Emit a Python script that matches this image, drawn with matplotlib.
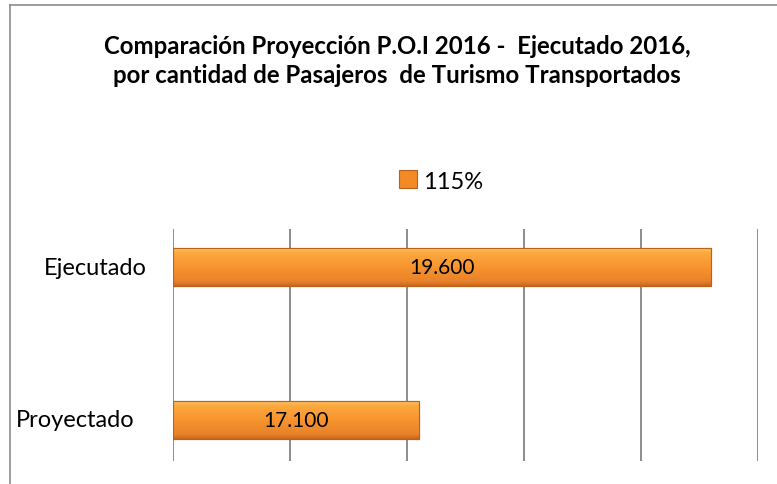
import matplotlib
matplotlib.use("Agg")
import matplotlib.pyplot as plt
import numpy as np
from matplotlib.patches import Patch
from matplotlib.colors import LinearSegmentedColormap
from matplotlib.lines import Line2D
import matplotlib.transforms as mtransforms

categories = ["Proyectado", "Ejecutado"]
values = [17100, 19600]
value_labels = ["17.100", "19.600"]
series_name = "115%"
title = "Comparación Proyección P.O.I 2016 -  Ejecutado 2016,\npor cantidad de Pasajeros  de Turismo Transportados"
x_min, x_max, x_step = 15000, 20000, 1000

FONT = ["Lato", "DejaVu Sans"]
plt.rcParams["font.family"] = FONT

W, H = 777, 485
fig = plt.figure(figsize=(W / 100, H / 100), dpi=100)
fig.patch.set_facecolor("white")

left, right = 173 / W, 758 / W
bottom, top = 23 / H, 255 / H
ax = fig.add_axes([left, bottom, right - left, top - bottom])

ypos = np.arange(len(categories))
bar_h = 0.25
bars = ax.barh(ypos, [v - x_min for v in values], left=x_min, height=bar_h,
               color="#F7922F", edgecolor="#B9621C", linewidth=0.8, zorder=3)

# gradient shading inside each bar (bevel look)
cmap = LinearSegmentedColormap.from_list(
    "bev", [(0.0, "#C8661C"), (0.12, "#E8822A"), (0.5, "#F9952F"), (0.85, "#FBA83F"), (1.0, "#FDC860")])
grad = np.linspace(0, 1, 256).reshape(-1, 1)
for b in bars:
    x0, y0 = b.get_x(), b.get_y()
    w, h = b.get_width(), b.get_height()
    im = ax.imshow(grad, cmap=cmap, aspect="auto", origin="lower",
                   extent=[x0, x0 + w, y0, y0 + h], zorder=3.5)
    im.set_clip_path(b)
    ax.add_patch(plt.Rectangle((x0, y0), w, h, fill=False, edgecolor="#B9621C",
                               linewidth=0.8, zorder=4))

for yi, v, lab in zip(ypos, values, value_labels):
    ax.text((x_min + v) / 2, yi, lab, ha="center", va="center",
            fontsize=15, color="black", zorder=5)

ax.set_xlim(x_min, x_max)
ax.set_ylim(-0.27, 1.25)
ax.set_xticks(np.arange(x_min, x_max + 1, x_step))
ax.set_xticklabels([])
ax.tick_params(axis="x", length=0)
ax.set_yticks([])
ax.grid(axis="x", color="#8C8C8C", linewidth=1.4, zorder=0)
for s in ax.spines.values():
    s.set_visible(False)
ax.set_facecolor("none")

# category labels
trans = mtransforms.blended_transform_factory(ax.transAxes, ax.transData)
label_right = {"Ejecutado": (147 - 173) / 585, "Proyectado": (135 - 173) / 585}
for yi, cat in zip(ypos, categories):
    ax.text(label_right[cat], yi, cat, transform=trans, ha="right", va="center",
            fontsize=17, color="black")

# title
fig.text(397 / W, 1 - 61 / H, title, ha="center", va="center", fontsize=17.3,
         fontweight="bold", linespacing=1.3, color="black")

# legend
handle = Patch(facecolor="#F38A26", edgecolor="#B9621C", linewidth=0.8)
leg = fig.legend([handle], [series_name], loc="center", bbox_to_anchor=(441 / W, 1 - 182 / H),
                 frameon=False, fontsize=17, handlelength=0.8, handleheight=0.8,
                 handletextpad=0.25)

# outer border (top and left)
fig.add_artist(Line2D([10 / W, 1], [1 - 6 / H, 1 - 6 / H], transform=fig.transFigure,
                      color="#8C8C8C", linewidth=1.2))
fig.add_artist(Line2D([10 / W, 10 / W], [0, 1 - 6 / H], transform=fig.transFigure,
                      color="#8C8C8C", linewidth=1.2))

fig.savefig("out.png", dpi=100, facecolor="white")
